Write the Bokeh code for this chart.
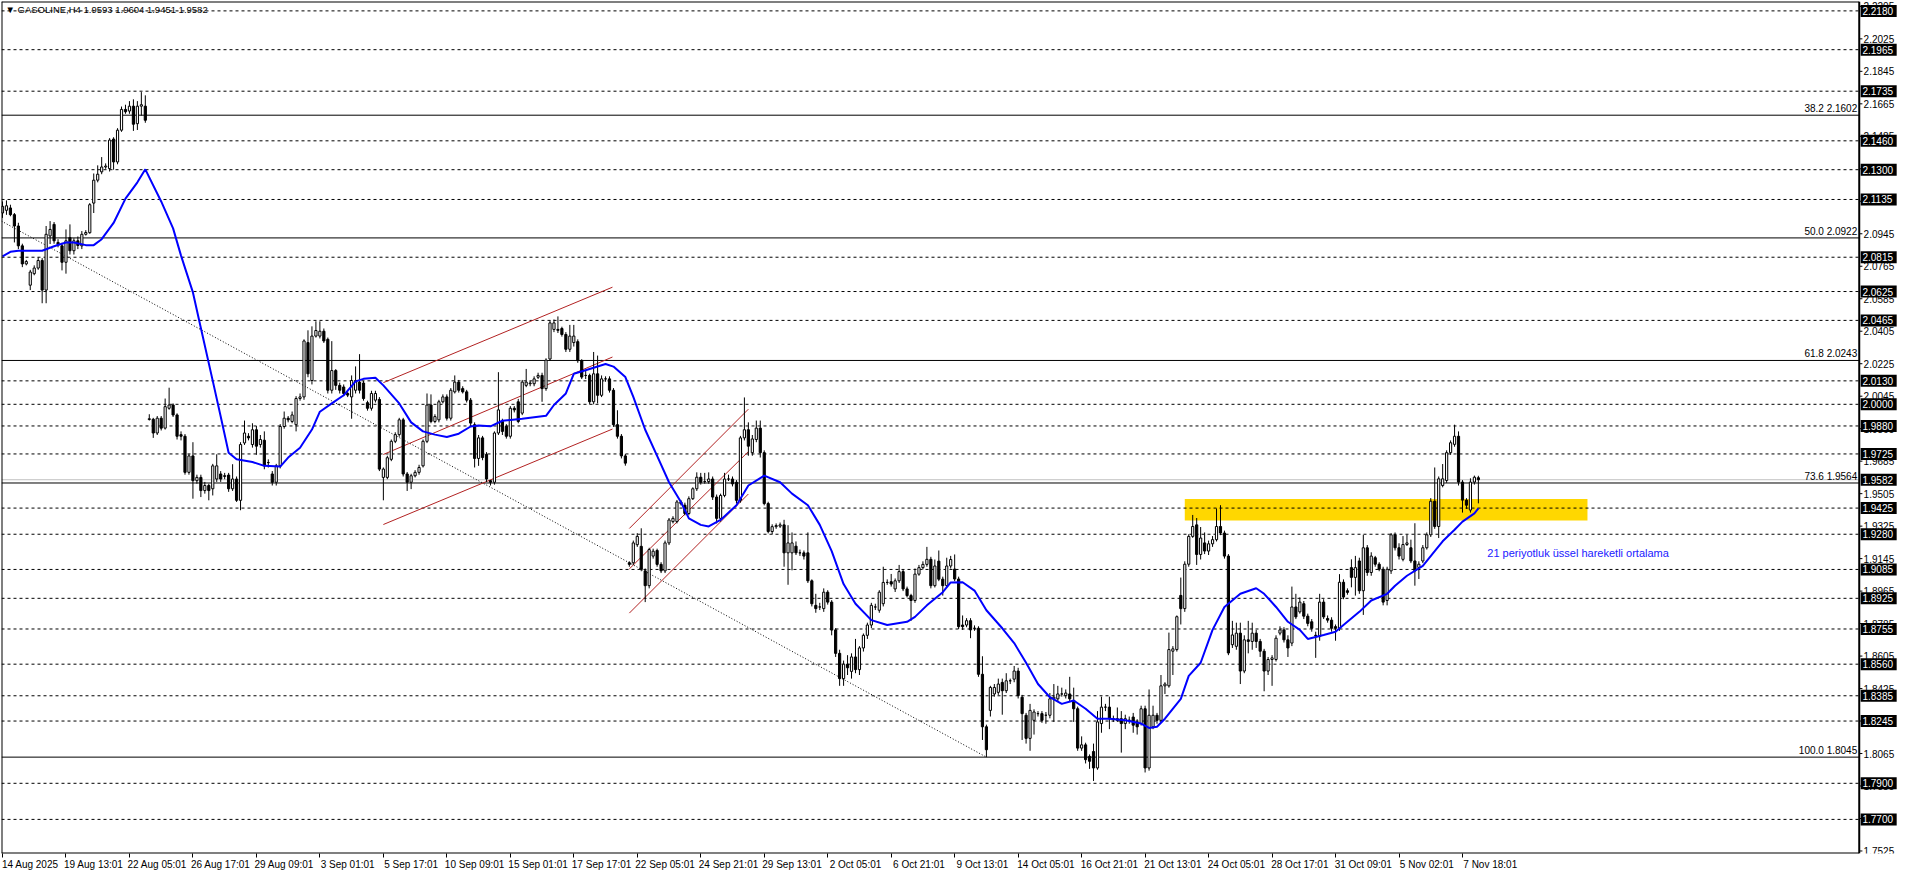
from bokeh.plotting import figure
from bokeh.models import Range1d, FixedTicker, Label, ColumnDataSource, LinearAxis
from bokeh.embed import file_html
from bokeh.resources import INLINE
from bokeh.core.properties import value

FONT = "Liberation Sans"

# ---------------- data ----------------
opens = [
2.1060, 2.1075, 2.1088, 2.1051, 2.0988, 2.0878, 2.0778, 2.0660, 2.0724, 2.0755,
2.0797, 2.0633, 2.0933, 2.0997, 2.0897, 2.0878, 2.0787, 2.0924, 2.0851, 2.0906,
2.0878, 2.0942, 2.0951, 2.1115, 2.1242, 2.1288, 2.1315, 2.1306, 2.1470, 2.1343,
2.1519, 2.1634, 2.1625, 2.1652, 2.1555, 2.1652, 2.1652, 1.9916, 1.9917, 1.9841,
1.9923, 1.9868, 1.9978, 1.9996, 1.9941, 1.9832, 1.9823, 1.9623, 1.9714, 1.9577,
1.9595, 1.9522, 1.9550, 1.9532, 1.9586, 1.9614, 1.9600, 1.9608, 1.9532, 1.9586,
1.9468, 1.9786, 1.9823, 1.9777, 1.9859, 1.9777, 1.9801, 1.9677, 1.9614, 1.9568,
1.9659, 1.9877, 1.9923, 1.9905, 1.9887, 2.0032, 2.0041, 2.0342, 2.0132, 2.0378,
2.0378, 2.0405, 2.0360, 2.0078, 2.0187, 2.0105, 2.0096, 2.0060, 2.0041, 2.0078,
2.0123, 2.0118, 2.0009, 1.9978, 2.0023, 2.0027, 1.9595, 1.9595, 1.9695, 1.9795,
1.9832, 1.9914, 1.9614, 1.9568, 1.9604, 1.9623, 1.9659, 1.9795, 1.9996, 1.9905,
1.9914, 2.0014, 2.0041, 1.9923, 2.0069, 2.0123, 2.0087, 2.0069, 2.0023, 1.9887,
1.9700, 1.9814, 1.9723, 1.9577, 1.9568, 1.9841, 1.9905, 1.9878, 1.9823, 1.9978,
2.0014, 1.9951, 2.0105, 2.0114, 2.0114, 2.0150, 2.0160, 2.0087, 2.0251, 2.0415,
2.0415, 2.0420, 2.0387, 2.0305, 2.0342, 2.0347, 2.0242, 2.0160, 2.0160, 2.0014,
2.0169, 2.0050, 2.0141, 2.0141, 2.0078, 1.9887, 1.9823, 1.9714, 1.9122, 1.9122,
1.9222, 1.9213, 1.9077, 1.8995, 1.9159, 1.9190, 1.9113, 1.9077, 1.9232, 1.9350,
1.9350, 1.9450, 1.9441, 1.9395, 1.9477, 1.9532, 1.9596, 1.9572, 1.9572, 1.9586,
1.9486, 1.9368, 1.9495, 1.9586, 1.9586, 1.9568, 1.9468, 1.9814, 1.9859, 1.9732,
1.9805, 1.9868, 1.9732, 1.9450, 1.9295, 1.9322, 1.9325, 1.9332, 1.9177, 1.9177,
1.9214, 1.9177, 1.9177, 1.9177, 1.9022, 1.8886, 1.8877, 1.8868, 1.8959, 1.8904,
1.8750, 1.8620, 1.8480, 1.8560, 1.8520, 1.8600, 1.8530, 1.8650, 1.8720, 1.8777,
1.8877, 1.8859, 1.8895, 1.9013, 1.9017, 1.8977, 1.9022, 1.9073, 1.8977, 1.8940,
1.8913, 1.9059, 1.9095, 1.9113, 1.9141, 1.8995, 1.9131, 1.9031, 1.8995, 1.9104,
1.9087, 1.9032, 1.8777, 1.8777, 1.8801, 1.8759, 1.8759, 1.8504, 1.8213, 1.8304,
1.8395, 1.8404, 1.8459, 1.8413, 1.8468, 1.8477, 1.8522, 1.8377, 1.8277, 1.8149,
1.8249, 1.8286, 1.8286, 1.8277, 1.8277, 1.8368, 1.8368, 1.8395, 1.8386, 1.8395,
1.8359, 1.8313, 1.8095, 1.8113, 1.8049, 1.8076, 1.7985, 1.8231, 1.8322, 1.8322,
1.8258, 1.8258, 1.8258, 1.8231, 1.8249, 1.8267, 1.8240, 1.8231, 1.8313, 1.7985,
1.8213, 1.8277, 1.8249, 1.8440, 1.8440, 1.8632, 1.8641, 1.8941, 1.8868, 1.9114,
1.9268, 1.9332, 1.9168, 1.9232, 1.9187, 1.9227, 1.9250, 1.9323, 1.9287, 1.9159,
1.8668, 1.8659, 1.8732, 1.8522, 1.8695, 1.8686, 1.8732, 1.8686, 1.8632, 1.8522,
1.8586, 1.8586, 1.8732, 1.8750, 1.8695, 1.8677, 1.8877, 1.8850, 1.8895, 1.8826,
1.8795, 1.8720, 1.8713, 1.8904, 1.8813, 1.8804, 1.8768, 1.8759, 1.9014, 1.8967,
1.9095, 1.9041, 1.9132, 1.8967, 1.9205, 1.9068, 1.9150, 1.9114, 1.9086, 1.8913,
1.9077, 1.9277, 1.9205, 1.9141, 1.9223, 1.9205, 1.9132, 1.9096, 1.9132, 1.9205,
1.9277, 1.9463, 1.9323, 1.9550, 1.9578, 1.9732, 1.9778, 1.9823, 1.9569, 1.9469,
1.9414, 1.9569, 1.9593]

highs = [
2.1124, 2.1130, 2.1106, 2.1060, 2.1006, 2.0890, 2.0800, 2.0745, 2.0770, 2.0815,
2.0810, 2.0988, 2.1015, 2.1010, 2.0915, 2.0895, 2.0969, 2.0997, 2.0920, 2.0930,
2.0960, 2.0965, 2.1115, 2.1279, 2.1324, 2.1370, 2.1335, 2.1475, 2.1480, 2.1530,
2.1650, 2.1660, 2.1680, 2.1690, 2.1680, 2.1730, 2.1712, 1.9945, 1.9925, 1.9935,
1.9935, 2.0032, 2.0092, 2.0005, 1.9950, 1.9850, 1.9835, 1.9725, 1.9790, 1.9610,
1.9610, 1.9570, 1.9560, 1.9670, 1.9723, 1.9630, 1.9620, 1.9620, 1.9668, 1.9600,
1.9790, 1.9910, 1.9840, 1.9895, 1.9880, 1.9830, 1.9850, 1.9695, 1.9630, 1.9670,
1.9890, 1.9960, 1.9935, 1.9960, 2.0045, 2.0060, 2.0360, 2.0410, 2.0432, 2.0460,
2.0460, 2.0420, 2.0370, 2.0350, 2.0195, 2.0120, 2.0110, 2.0070, 2.0160, 2.0210,
2.0278, 2.0130, 2.0020, 2.0075, 2.0075, 2.0040, 1.9650, 1.9715, 1.9805, 1.9845,
1.9925, 1.9925, 1.9625, 1.9615, 1.9635, 1.9665, 1.9805, 2.0060, 2.0055, 1.9945,
2.0025, 2.0055, 2.0055, 2.0090, 2.0160, 2.0135, 2.0100, 2.0080, 2.0035, 1.9900,
1.9830, 1.9825, 1.9735, 1.9580, 1.9850, 2.0178, 1.9920, 1.9890, 1.9990, 1.9990,
2.0030, 2.0135, 2.0196, 2.0130, 2.0155, 2.0175, 2.0175, 2.0255, 2.0465, 2.0470,
2.0487, 2.0430, 2.0400, 2.0440, 2.0440, 2.0360, 2.0250, 2.0190, 2.0170, 2.0290,
2.0270, 2.0160, 2.0155, 2.0155, 2.0090, 1.9967, 1.9835, 1.9725, 1.9130, 1.9245,
1.9286, 1.9313, 1.9090, 1.9205, 1.9200, 1.9200, 1.9125, 1.9245, 1.9370, 1.9380,
1.9470, 1.9470, 1.9455, 1.9490, 1.9540, 1.9623, 1.9620, 1.9620, 1.9623, 1.9600,
1.9500, 1.9505, 1.9620, 1.9610, 1.9600, 1.9580, 1.9825, 2.0038, 1.9900, 1.9830,
1.9910, 1.9910, 1.9745, 1.9460, 1.9335, 1.9340, 1.9345, 1.9360, 1.9330, 1.9290,
1.9240, 1.9195, 1.9190, 1.9290, 1.9030, 1.8950, 1.8900, 1.8980, 1.8970, 1.8915,
1.8760, 1.8640, 1.8580, 1.8610, 1.8620, 1.8700, 1.8660, 1.8730, 1.8790, 1.8900,
1.8895, 1.8970, 1.9100, 1.9030, 1.9060, 1.9035, 1.9110, 1.9085, 1.8990, 1.8950,
1.9090, 1.9110, 1.9130, 1.9210, 1.9155, 1.9140, 1.9190, 1.9045, 1.9150, 1.9160,
1.9168, 1.9045, 1.8830, 1.8815, 1.8815, 1.8775, 1.8770, 1.8604, 1.8225, 1.8440,
1.8450, 1.8480, 1.8480, 1.8510, 1.8480, 1.8550, 1.8540, 1.8390, 1.8290, 1.8340,
1.8310, 1.8300, 1.8300, 1.8295, 1.8400, 1.8450, 1.8440, 1.8430, 1.8420, 1.8490,
1.8430, 1.8325, 1.8160, 1.8125, 1.8060, 1.8120, 1.8300, 1.8380, 1.8340, 1.8380,
1.8275, 1.8320, 1.8300, 1.8280, 1.8270, 1.8290, 1.8255, 1.8330, 1.8330, 1.8420,
1.8330, 1.8290, 1.8500, 1.8460, 1.8735, 1.8660, 1.8830, 1.9040, 1.9130, 1.9280,
1.9387, 1.9370, 1.9320, 1.9290, 1.9245, 1.9270, 1.9423, 1.9441, 1.9300, 1.9170,
1.8800, 1.8790, 1.8790, 1.8720, 1.8800, 1.8790, 1.8750, 1.8700, 1.8645, 1.8600,
1.8610, 1.8720, 1.8770, 1.8765, 1.8720, 1.8990, 1.8950, 1.8930, 1.8910, 1.8840,
1.8810, 1.8740, 1.8950, 1.8920, 1.8830, 1.8820, 1.8780, 1.9059, 1.9030, 1.8980,
1.9141, 1.9160, 1.9150, 1.9277, 1.9220, 1.9180, 1.9160, 1.9125, 1.9100, 1.9100,
1.9287, 1.9290, 1.9230, 1.9270, 1.9277, 1.9250, 1.9341, 1.9130, 1.9220, 1.9290,
1.9480, 1.9650, 1.9600, 1.9669, 1.9745, 1.9800, 1.9887, 1.9850, 1.9580, 1.9480,
1.9590, 1.9605, 1.9604]

lows = [
2.1033, 2.1050, 2.1042, 2.0897, 2.0860, 2.0760, 2.0770, 2.0633, 2.0715, 2.0745,
2.0560, 2.0560, 2.0888, 2.0890, 2.0870, 2.0742, 2.0724, 2.0830, 2.0830, 2.0860,
2.0860, 2.0935, 2.0945, 2.1060, 2.1230, 2.1275, 2.1305, 2.1290, 2.1300, 2.1330,
2.1510, 2.1610, 2.1610, 2.1515, 2.1520, 2.1600, 2.1560, 1.9910, 1.9814, 1.9830,
1.9855, 1.9860, 1.9970, 1.9930, 1.9805, 1.9800, 1.9610, 1.9610, 1.9477, 1.9560,
1.9486, 1.9505, 1.9468, 1.9495, 1.9570, 1.9570, 1.9585, 1.9515, 1.9520, 1.9459,
1.9413, 1.9775, 1.9800, 1.9760, 1.9720, 1.9760, 1.9640, 1.9650, 1.9550, 1.9550,
1.9645, 1.9865, 1.9900, 1.9895, 1.9850, 2.0020, 2.0025, 2.0150, 2.0110, 2.0370,
2.0365, 2.0340, 2.0060, 2.0060, 2.0080, 2.0060, 2.0045, 2.0040, 1.9920, 2.0060,
2.0060, 2.0020, 1.9965, 1.9965, 2.0010, 1.9630, 1.9468, 1.9585, 1.9685, 1.9785,
1.9820, 1.9600, 1.9520, 1.9530, 1.9595, 1.9610, 1.9650, 1.9785, 1.9895, 1.9895,
1.9900, 2.0005, 1.9910, 1.9910, 2.0060, 2.0065, 2.0060, 2.0010, 1.9880, 1.9650,
1.9659, 1.9690, 1.9570, 1.9550, 1.9555, 1.9830, 1.9830, 1.9810, 1.9810, 1.9955,
1.9895, 1.9940, 2.0095, 2.0100, 2.0100, 2.0140, 2.0014, 2.0075, 2.0240, 2.0400,
2.0395, 2.0375, 2.0290, 2.0290, 2.0320, 2.0230, 2.0140, 2.0140, 2.0000, 2.0000,
2.0005, 2.0040, 2.0125, 2.0065, 1.9875, 1.9810, 1.9700, 1.9660, 1.9100, 1.9110,
1.9210, 1.9075, 1.8904, 1.8980, 1.9145, 1.9100, 1.9065, 1.9065, 1.9220, 1.9340,
1.9340, 1.9440, 1.9385, 1.9385, 1.9470, 1.9520, 1.9555, 1.9560, 1.9560, 1.9470,
1.9340, 1.9350, 1.9485, 1.9575, 1.9545, 1.9450, 1.9455, 1.9800, 1.9715, 1.9715,
1.9790, 1.9705, 1.9440, 1.9285, 1.9280, 1.9310, 1.9315, 1.9100, 1.9000, 1.9080,
1.9165, 1.9160, 1.9140, 1.9010, 1.8880, 1.8845, 1.8860, 1.8850, 1.8890, 1.8720,
1.8600, 1.8440, 1.8440, 1.8500, 1.8480, 1.8510, 1.8500, 1.8630, 1.8700, 1.8760,
1.8860, 1.8845, 1.8880, 1.9000, 1.8990, 1.8960, 1.9010, 1.8965, 1.8930, 1.8800,
1.8900, 1.9050, 1.9085, 1.9100, 1.8980, 1.8985, 1.9020, 1.8940, 1.8985, 1.9090,
1.9020, 1.8755, 1.8750, 1.8765, 1.8704, 1.8745, 1.8490, 1.8140, 1.8045, 1.8270,
1.8380, 1.8390, 1.8280, 1.8400, 1.8450, 1.8460, 1.8370, 1.8140, 1.8120, 1.8080,
1.8170, 1.8270, 1.8235, 1.8230, 1.8260, 1.8240, 1.8350, 1.8380, 1.8370, 1.8350,
1.8240, 1.8080, 1.8080, 1.8010, 1.7980, 1.7913, 1.7975, 1.8180, 1.8300, 1.8200,
1.8240, 1.8240, 1.8070, 1.8200, 1.8230, 1.8180, 1.8170, 1.8220, 1.7960, 1.7970,
1.8200, 1.8230, 1.8235, 1.8395, 1.8430, 1.8500, 1.8630, 1.8780, 1.8850, 1.9100,
1.9260, 1.9110, 1.9140, 1.9170, 1.9165, 1.9210, 1.9240, 1.9275, 1.9145, 1.8610,
1.8650, 1.8640, 1.8450, 1.8510, 1.8620, 1.8640, 1.8650, 1.8600, 1.8410, 1.8500,
1.8440, 1.8575, 1.8720, 1.8680, 1.8600, 1.8660, 1.8810, 1.8840, 1.8810, 1.8770,
1.8740, 1.8595, 1.8690, 1.8810, 1.8790, 1.8740, 1.8690, 1.8745, 1.8920, 1.8945,
1.8986, 1.8940, 1.8950, 1.8833, 1.9050, 1.9050, 1.9100, 1.9075, 1.8886, 1.8886,
1.9060, 1.9190, 1.9140, 1.9130, 1.9215, 1.9120, 1.8995, 1.9032, 1.9120, 1.9195,
1.9265, 1.9310, 1.9259, 1.9540, 1.9565, 1.9720, 1.9765, 1.9550, 1.9400, 1.9420,
1.9400, 1.9555, 1.9451]

closes = [
2.1097, 2.1100, 2.1051, 2.0988, 2.0878, 2.0778, 2.0791, 2.0733, 2.0755, 2.0797,
2.0633, 2.0942, 2.0969, 2.0906, 2.0885, 2.0787, 2.0906, 2.0851, 2.0906, 2.0880,
2.0942, 2.0952, 2.1106, 2.1242, 2.1275, 2.1315, 2.1320, 2.1464, 2.1343, 2.1519,
2.1634, 2.1621, 2.1652, 2.1552, 2.1652, 2.1660, 2.1574, 1.9920, 1.9841, 1.9923,
1.9868, 1.9987, 1.9996, 1.9941, 1.9823, 1.9823, 1.9623, 1.9714, 1.9577, 1.9595,
1.9522, 1.9550, 1.9522, 1.9659, 1.9659, 1.9586, 1.9605, 1.9532, 1.9586, 1.9468,
1.9777, 1.9841, 1.9814, 1.9859, 1.9768, 1.9805, 1.9659, 1.9677, 1.9568, 1.9659,
1.9877, 1.9923, 1.9914, 1.9941, 2.0032, 2.0041, 2.0351, 2.0169, 2.0378, 2.0409,
2.0405, 2.0351, 2.0078, 2.0187, 2.0105, 2.0078, 2.0060, 2.0051, 2.0132, 2.0132,
2.0078, 2.0032, 1.9978, 2.0060, 2.0060, 1.9641, 1.9641, 1.9704, 1.9795, 1.9832,
1.9914, 1.9614, 1.9568, 1.9604, 1.9623, 1.9650, 1.9795, 1.9996, 1.9905, 1.9932,
2.0014, 2.0041, 1.9923, 2.0078, 2.0123, 2.0078, 2.0069, 2.0023, 1.9896, 1.9700,
1.9814, 1.9705, 1.9586, 1.9568, 1.9841, 1.9969, 1.9850, 1.9823, 1.9978, 1.9969,
1.9905, 2.0123, 2.0123, 2.0118, 2.0141, 2.0160, 2.0087, 2.0245, 2.0451, 2.0451,
2.0410, 2.0387, 2.0305, 2.0378, 2.0378, 2.0242, 2.0151, 2.0160, 2.0014, 2.0169,
2.0050, 2.0141, 2.0141, 2.0078, 1.9887, 1.9823, 1.9714, 1.9674, 1.9113, 1.9232,
1.9268, 1.9086, 1.8995, 1.9195, 1.9186, 1.9113, 1.9077, 1.9232, 1.9359, 1.9368,
1.9459, 1.9459, 1.9395, 1.9477, 1.9532, 1.9596, 1.9568, 1.9572, 1.9586, 1.9486,
1.9368, 1.9495, 1.9586, 1.9586, 1.9559, 1.9468, 1.9814, 1.9859, 1.9768, 1.9808,
1.9868, 1.9732, 1.9450, 1.9295, 1.9322, 1.9328, 1.9332, 1.9177, 1.9232, 1.9232,
1.9177, 1.9177, 1.9159, 1.9022, 1.8895, 1.8868, 1.8877, 1.8959, 1.8904, 1.8749,
1.8620, 1.8480, 1.8560, 1.8540, 1.8600, 1.8530, 1.8650, 1.8720, 1.8777, 1.8886,
1.8877, 1.8959, 1.9013, 1.9013, 1.9004, 1.9022, 1.9073, 1.8977, 1.8940, 1.8913,
1.9059, 1.9095, 1.9113, 1.9141, 1.8995, 1.9104, 1.9031, 1.8995, 1.9104, 1.9140,
1.9032, 1.8768, 1.8768, 1.8801, 1.8750, 1.8759, 1.8504, 1.8213, 1.8086, 1.8431,
1.8431, 1.8450, 1.8413, 1.8468, 1.8468, 1.8522, 1.8386, 1.8286, 1.8149, 1.8304,
1.8295, 1.8286, 1.8249, 1.8277, 1.8368, 1.8377, 1.8395, 1.8395, 1.8400, 1.8368,
1.8313, 1.8095, 1.8113, 1.8031, 1.8022, 1.7985, 1.8240, 1.8322, 1.8322, 1.8258,
1.8258, 1.8249, 1.8231, 1.8258, 1.8249, 1.8222, 1.8213, 1.8313, 1.7985, 1.8277,
1.8277, 1.8249, 1.8440, 1.8450, 1.8641, 1.8645, 1.8823, 1.8868, 1.9114, 1.9268,
1.9323, 1.9168, 1.9259, 1.9187, 1.9227, 1.9250, 1.9323, 1.9287, 1.9159, 1.8622,
1.8722, 1.8732, 1.8522, 1.8695, 1.8686, 1.8732, 1.8686, 1.8632, 1.8522, 1.8586,
1.8595, 1.8704, 1.8750, 1.8695, 1.8650, 1.8877, 1.8822, 1.8904, 1.8826, 1.8786,
1.8759, 1.8717, 1.8904, 1.8822, 1.8804, 1.8759, 1.8759, 1.9014, 1.8932, 1.8958,
1.9041, 1.9095, 1.8967, 1.9205, 1.9068, 1.9159, 1.9114, 1.9086, 1.8904, 1.9086,
1.9277, 1.9205, 1.9159, 1.9223, 1.9232, 1.9132, 1.9077, 1.9114, 1.9205, 1.9277,
1.9463, 1.9323, 1.9587, 1.9587, 1.9732, 1.9787, 1.9823, 1.9569, 1.9469, 1.9441,
1.9569, 1.9596, 1.9582]

# 21-period EMA as drawn on the chart (bar index, value)
ema_bars = [0, 2, 4, 10, 13, 16, 18, 21, 23, 25, 28, 31, 34, 36, 40, 43, 45, 48, 50, 53,
            55, 57, 59, 63, 66, 70, 72, 75, 78, 80, 83, 86, 89, 91, 94, 96, 100, 103, 106, 109,
            112, 115, 118, 120, 123, 126, 131, 137, 139, 142, 144, 148, 152, 154, 157, 159, 162, 165, 168, 171,
            173, 176, 178, 181, 185, 188, 192, 196, 199, 203, 206, 209, 212, 215, 219, 223, 228, 230, 233, 237,
            239, 242, 245, 248, 252, 255, 258, 261, 264, 267, 270, 273, 276, 279, 283, 287, 289, 291, 293, 297,
            299, 302, 305, 308, 312, 316, 318, 321, 324, 327, 329, 333, 336, 338, 342, 345, 349, 351, 354, 358,
            361, 363, 366, 368, 371, 372]
ema_vals = [2.0820, 2.0845, 2.0851, 2.0851, 2.0876, 2.0897, 2.0897, 2.0882, 2.0882, 2.0915,
            2.1005, 2.1140, 2.1230, 2.1302, 2.1124, 2.0975, 2.0824, 2.0620, 2.0423, 2.0130,
            1.9932, 1.9732, 1.9695, 1.9680, 1.9659, 1.9655, 1.9705, 1.9759, 1.9860, 1.9959,
            2.0005, 2.0050, 2.0127, 2.0141, 2.0147, 2.0105, 2.0005, 1.9900, 1.9850, 1.9832,
            1.9819, 1.9837, 1.9877, 1.9882, 1.9878, 1.9909, 1.9920, 1.9936, 1.9996, 2.0060,
            2.0169, 2.0196, 2.0223, 2.0209, 2.0151, 2.0041, 1.9859, 1.9714, 1.9568, 1.9459,
            1.9368, 1.9332, 1.9323, 1.9359, 1.9441, 1.9550, 1.9605, 1.9568, 1.9505, 1.9441,
            1.9332, 1.9186, 1.9004, 1.8895, 1.8804, 1.8777, 1.8795, 1.8822, 1.8886, 1.8959,
            1.9013, 1.9014, 1.8968, 1.8859, 1.8759, 1.8677, 1.8568, 1.8450, 1.8377, 1.8340,
            1.8359, 1.8313, 1.8258, 1.8258, 1.8249, 1.8231, 1.8207, 1.8213, 1.8258, 1.8368,
            1.8495, 1.8568, 1.8750, 1.8877, 1.8950, 1.8981, 1.8950, 1.8877, 1.8795, 1.8750,
            1.8700, 1.8722, 1.8740, 1.8777, 1.8850, 1.8913, 1.8950, 1.8995, 1.9050, 1.9105,
            1.9186, 1.9241, 1.9305, 1.9350, 1.9396, 1.9423]

# horizontal dashed levels (with black price boxes)
dashed_levels = [2.2180, 2.1965, 2.1735, 2.1460, 2.1300, 2.1135, 2.0815, 2.0625, 2.0465,
                 2.0130, 2.0000, 1.9880, 1.9725, 1.9425, 1.9280, 1.9085, 1.8925, 1.8755,
                 1.8560, 1.8385, 1.8245, 1.7900, 1.7700]
bid_price = 1.9582

# Fibonacci retracement
fib_pcts = ["38.2", "50.0", "61.8", "73.6", "100.0"]
fib_prices = [2.1602, 2.0922, 2.0243, 1.9564, 1.8045]
fib_anchor_bars = [-0.25, 248]
fib_anchor_prices = [2.1015, 1.8045]

# red channel lines: start bar, start price, end bar, end price
ch_bar0 = [96, 96, 96, 158, 158, 158]
ch_p0 = [2.0120, 1.9722, 1.9334, 1.9312, 1.9088, 1.8843]
ch_bar1 = [153.75, 153.75, 153.75, 188, 188, 188]
ch_p1 = [2.0649, 2.0262, 1.9863, 1.9973, 1.9738, 1.9503]

# yellow zone
zone_bars = [298, 399.5]
zone_prices = [1.9356, 1.9476]

# axes
y_ticks = [2.2205, 2.2025, 2.1845, 2.1665, 2.1485, 2.1305, 2.1125, 2.0945, 2.0765, 2.0585,
           2.0405, 2.0225, 2.0045, 1.9865, 1.9685, 1.9505, 1.9325, 1.9145, 1.8965, 1.8785,
           1.8605, 1.8425, 1.8245, 1.8065, 1.7885, 1.7705, 1.7525]
x_tick_bars = [0, 16, 32, 48, 64, 80, 96, 112, 128, 144, 160, 176, 192, 208, 224, 240,
               256, 272, 288, 304, 320, 336, 352, 368]
x_tick_labels = ["14 Aug 2025", "19 Aug 13:01", "22 Aug 05:01", "26 Aug 17:01", "29 Aug 09:01",
                 "3 Sep 01:01", "5 Sep 17:01", "10 Sep 09:01", "15 Sep 01:01", "17 Sep 17:01",
                 "22 Sep 05:01", "24 Sep 21:01", "29 Sep 13:01", "2 Oct 05:01", "6 Oct 21:01",
                 "9 Oct 13:01", "14 Oct 05:01", "16 Oct 21:01", "21 Oct 13:01", "24 Oct 05:01",
                 "28 Oct 17:01", "31 Oct 09:01", "5 Nov 02:01", "7 Nov 18:01"]

title_text = "\u25bc GASOLINE,H4  1.9593 1.9604 1.9451 1.9582"
note_text = "21 periyotluk üssel hareketli ortalama"
note_bar = 374.25
note_price = 1.9176

# ---------------- layout constants ----------------
X_MIN = -0.25
AXIS_X = 468.0          # price-scale line (right edge of the chart area)
X_END = 478.4           # includes the price-label strip
Y_MIN, Y_MAX = 1.7511, 2.2232
LABEL_SHIFT = 7         # date labels start at their tick

p = figure(width=1900, height=872, output_backend="svg", toolbar_location=None,
           x_range=Range1d(X_MIN, X_END), y_range=Range1d(Y_MIN, Y_MAX),
           y_axis_location=None, min_border_left=1, min_border_top=1,
           min_border_bottom=0, min_border_right=0,
           background_fill_color="white", border_fill_color="white")
p.xgrid.visible = False
p.ygrid.visible = False
p.outline_line_color = None

# x axis: tick marks only
xa = p.xaxis[0]
xa.ticker = FixedTicker(ticks=x_tick_bars)
xa.major_label_overrides = {t: "" for t in x_tick_bars}
xa.major_label_text_font_size = "1px"
xa.major_label_standoff = 0
xa.axis_label_standoff = 0
xa.axis_label_text_font_size = "1px"
xa.major_tick_in = 0
xa.major_tick_out = 4
xa.major_tick_line_color = "black"
xa.minor_tick_line_color = None
xa.axis_line_color = None

# x axis: date labels, starting at each tick
lab_ticks = [b + LABEL_SHIFT for b in x_tick_bars]
lab_axis = LinearAxis(ticker=FixedTicker(ticks=lab_ticks),
                      major_label_overrides={t: s for t, s in zip(lab_ticks, x_tick_labels)},
                      major_tick_line_color=None, minor_tick_line_color=None,
                      major_tick_in=0, major_tick_out=0,
                      axis_line_color=None, major_label_standoff=1,
                      axis_label_standoff=0, axis_label_text_font_size="1px",
                      major_label_text_font=FONT, major_label_text_font_size="10px",
                      major_label_text_color="black")
p.add_layout(lab_axis, "below")

# yellow zone (underlay)
p.quad(left=[zone_bars[0]], right=[zone_bars[1]], bottom=[zone_prices[0]], top=[zone_prices[1]],
       fill_color="#FFD700", line_color=None, level="underlay")

# horizontal levels
nd = len(dashed_levels)
p.segment(x0=[X_MIN] * nd, y0=dashed_levels, x1=[AXIS_X] * nd, y1=dashed_levels,
          line_color="black", line_dash="3 3", line_width=1, level="underlay")
p.segment(x0=[X_MIN], y0=[bid_price], x1=[AXIS_X], y1=[bid_price],
          line_color="#C0C0C0", line_width=1, level="underlay")
nf = len(fib_prices)
p.segment(x0=[X_MIN] * nf, y0=fib_prices, x1=[AXIS_X] * nf, y1=fib_prices,
          line_color="black", line_width=1, level="underlay")

# fib trend (dotted)
p.line(fib_anchor_bars, fib_anchor_prices, line_color="black", line_dash="1 2", line_width=1)

# channels
p.segment(x0=ch_bar0, y0=ch_p0, x1=ch_bar1, y1=ch_p1, line_color="#B22222", line_width=1)

# candles
n = min(len(opens), len(highs), len(lows), len(closes))
bars = list(range(n))
up = [i for i in bars if closes[i] >= opens[i]]
dn = [i for i in bars if closes[i] < opens[i]]
p.segment(x0=bars, y0=highs[:n], x1=bars, y1=lows[:n], line_color="black", line_width=1)
src_up = ColumnDataSource(dict(x=up, top=[closes[i] for i in up], bottom=[opens[i] for i in up]))
src_dn = ColumnDataSource(dict(x=dn, top=[opens[i] for i in dn], bottom=[closes[i] for i in dn]))
p.vbar(x="x", width=0.55, top="top", bottom="bottom", source=src_up,
       fill_color="white", line_color="black", line_width=1)
p.vbar(x="x", width=0.55, top="top", bottom="bottom", source=src_dn,
       fill_color="black", line_color="black", line_width=1)

# EMA
p.line(ema_bars, ema_vals, line_color="#0000FF", line_width=2)

# chart frame: left, top, bottom edges and the price-scale line
p.segment(x0=[X_MIN, X_MIN, X_MIN, AXIS_X], y0=[Y_MIN, Y_MAX, Y_MIN, Y_MIN],
          x1=[X_MIN, AXIS_X, AXIS_X, AXIS_X], y1=[Y_MAX, Y_MAX, Y_MIN, Y_MAX],
          line_color="black", line_width=2)

# price scale: ticks, labels, black boxes
nt = len(y_ticks)
p.segment(x0=[AXIS_X] * nt, y0=y_ticks, x1=[AXIS_X + 0.8] * nt, y1=y_ticks,
          line_color="black", line_width=1)
p.text(x=[AXIS_X + 1.1] * nt, y=y_ticks, text=[f"{t:.4f}" for t in y_ticks],
       text_align="left", text_baseline="middle", text_font=value(FONT),
       text_font_size="10px", text_color="black")
box_levels = dashed_levels + [bid_price]
nb = len(box_levels)
p.rect(x=[AXIS_X + 4.9] * nb, y=box_levels, width=36, height=12,
       width_units="screen", height_units="screen", fill_color="black", line_color=None)
p.text(x=[AXIS_X + 0.8] * nb, y=box_levels, text=[f"{v:.4f}" for v in box_levels],
       text_align="left", text_baseline="middle", text_font=value(FONT),
       text_font_size="10px", text_color="white")

# fib labels
for pct, lv in zip(fib_pcts, fib_prices):
    p.add_layout(Label(x=AXIS_X, y=lv, text=f"{pct} {lv:.4f}", text_align="right",
                       text_baseline="bottom", x_offset=-2, y_offset=1,
                       text_font=FONT, text_font_size="10px", text_color="black"))

# title and note
p.add_layout(Label(x=X_MIN, y=Y_MAX, text=title_text, text_align="left", text_baseline="top",
                   x_offset=4, y_offset=-2, text_font=FONT, text_font_size="9.5px",
                   text_color="black"))
p.add_layout(Label(x=note_bar, y=note_price, text=note_text, text_align="left",
                   text_baseline="middle", text_font=FONT, text_font_size="11px",
                   text_color="#2020FF"))

open("out.html", "w").write(file_html(p, INLINE))
